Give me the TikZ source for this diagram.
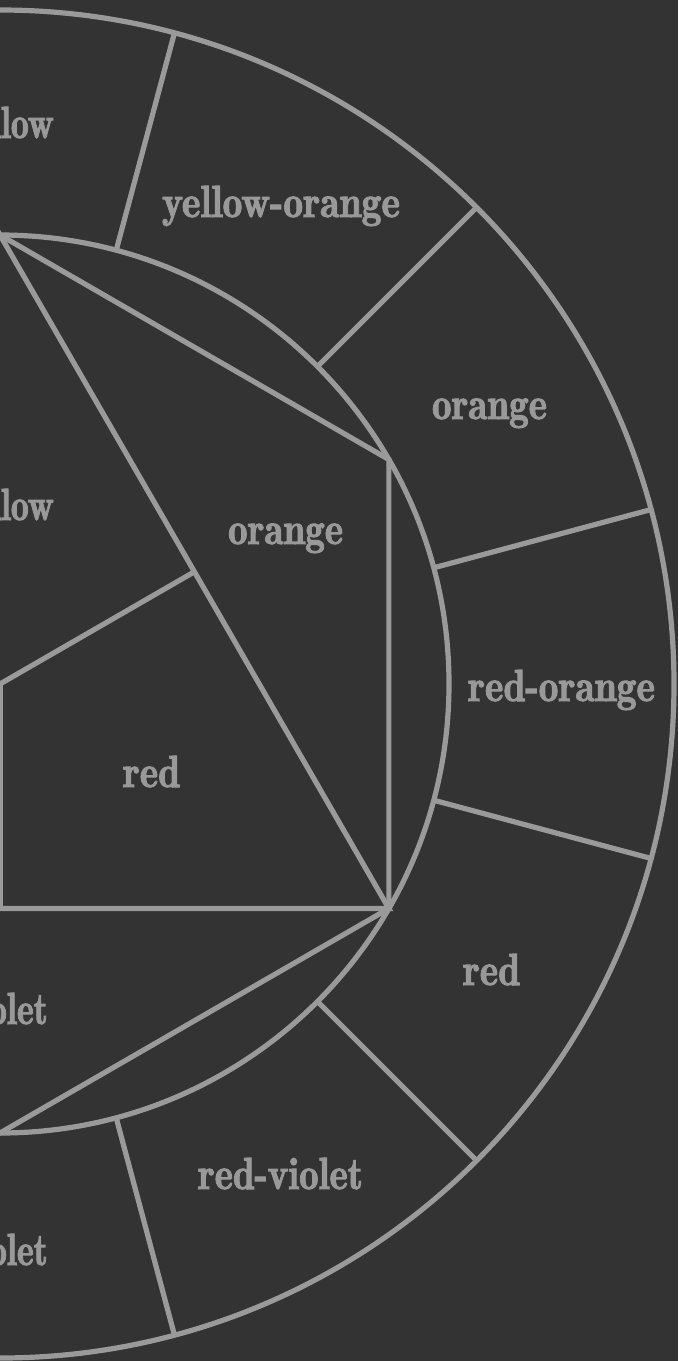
\documentclass[tikz,border=0pt]{standalone}
\usepackage{fontspec}
\usepackage{graphicx}
\usetikzlibrary{calc}
\newfontfamily\lblfam{lmromandemi10-regular.otf}[FakeBold=2.2]
\definecolor{bgc}{HTML}{333333}
\definecolor{lnc}{HTML}{9A9A9A}
\definecolor{txc}{HTML}{999999}
\newcommand\lblf{\lblfam\fontsize{45}{50}\selectfont}
\newcommand\lblw[2]{\resizebox{#1pt}{\height}{\lblf #2}}
\newcommand\lblp[1]{\resizebox{0.8\width}{\height}{\lblf #1}}
\tikzset{
  ln/.style={draw=lnc, line width=5.2pt, line join=miter},
  lbl/.style={text=txc, inner sep=0pt, anchor=base},
  lble/.style={text=txc, inner sep=0pt, anchor=base east},
}
\begin{document}
\begin{tikzpicture}[x=1pt,y=-1pt]
\useasboundingbox (0,0) rectangle (678,1361);
\fill[bgc] (0,0) rectangle (678,1361);
\clip (0,0) rectangle (678,1361);
\coordinate (C) at (0,684);
% circles
\draw[ln] (C) circle[radius=674];
\draw[ln] (C) circle[radius=449];
% ring dividers
\foreach \a in {15,45,...,345}{
  \coordinate (i\a) at ({449*cos(\a)},{684-449*sin(\a)});
  \coordinate (o\a) at ({674*cos(\a)},{684-674*sin(\a)});
  \draw[ln] (i\a) -- (o\a);
}
% hexagon vertices
\foreach \a in {90,30,-30,-90,-150,150}{
  \coordinate (h\a) at ({449*cos(\a)},{684-449*sin(\a)});
}
\draw[ln] (h90) -- (h30) -- (h-30) -- (h-90) -- (h-150) -- (h150) -- cycle;
% primary triangle
\draw[ln] (h90) -- (h-30) -- (h-150) -- cycle;
% center to edge midpoints
\coordinate (m1) at ($(h90)!0.5!(h-30)$);
\coordinate (m2) at ($(h-30)!0.5!(h-150)$);
\coordinate (m3) at ($(h-150)!0.5!(h90)$);
\draw[ln] (C) -- (m1);
\draw[ln] (C) -- (m2);
\draw[ln] (C) -- (m3);
% outer ring labels
\node[lble] (oyellow) at (54,138) {\lblp{yellow}};
\node[lbl] (oyo) at (281,217) {\lblw{238}{yellow-orange}};
\node[lbl] (oorange) at (489.5,419) {\lblw{115}{orange}};
\node[lbl] (oro) at (561.5,701) {\lblw{187}{red-orange}};
\node[lbl] (ored) at (491.5,985) {\lblw{57}{red}};
\node[lbl] (orv) at (280.5,1189) {\lblw{165}{red-violet}};
\node[lble] (oviolet) at (48,1265) {\lblp{violet}};
% inner labels
\node[lble] (iyellow) at (54,520) {\lblp{yellow}};
\node[lbl] (iorange) at (285.6,544) {\lblw{115}{orange}};
\node[lbl] (ired) at (151.5,787) {\lblw{57}{red}};
\node[lble] (iviolet) at (48,1024) {\lblp{violet}};
\end{tikzpicture}
\end{document}
